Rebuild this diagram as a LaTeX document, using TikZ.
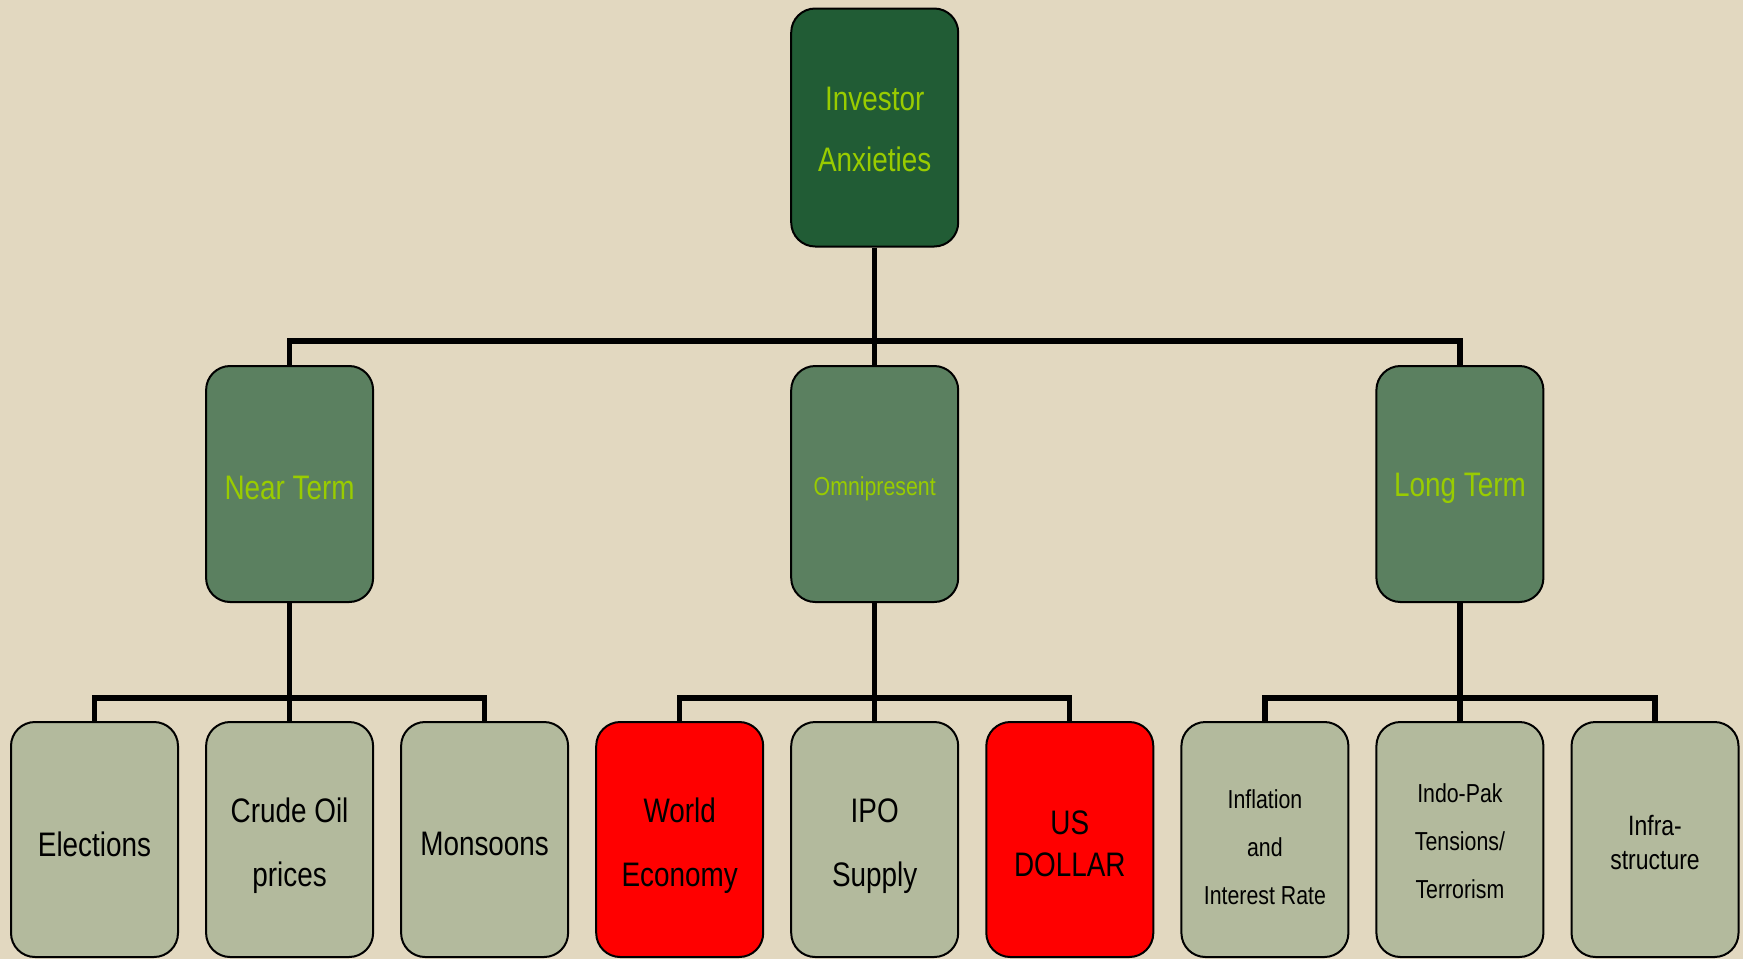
\documentclass[tikz,border=0pt]{standalone}
\usepackage{fontspec}
\setmainfont{Liberation Sans}[FakeStretch=0.82]
\definecolor{bg}{RGB}{226,216,192}
\definecolor{topfill}{RGB}{33,92,53}
\definecolor{midfill}{RGB}{91,128,96}
\definecolor{lowfill}{RGB}{179,186,157}
\definecolor{lime}{RGB}{153,204,0}
\definecolor{hot}{RGB}{255,0,0}
\begin{document}
\begin{tikzpicture}[x=0.5pt,y=-0.5pt,
  box/.style={draw=black, line width=1pt, rounded corners=12pt, minimum width=83.5pt, inner sep=0pt},
  topbox/.style={box, fill=topfill, minimum height=119pt},
  midbox/.style={box, fill=midfill, minimum height=118pt},
  lowbox/.style={box, fill=lowfill, minimum height=117.5pt},
  redbox/.style={lowbox, fill=hot},
  txt/.style={inner sep=0pt, align=center},
  greentxt/.style={txt, text=lime, font=\fontsize{17}{30.5}\selectfont},
  blacktxt/.style={txt, text=black, font=\fontsize{17}{32}\selectfont},
  conn/.style={draw=black, line width=2.6pt, line join=miter}]
\useasboundingbox (0,0) rectangle (1743,959);
\fill[bg] (0,0) rectangle (1743,959);
% connector levels
\coordinate (b1) at (874.7,341);
\coordinate (bn) at (289.6,698);
\coordinate (bo) at (874.7,698);
\coordinate (bl) at (1459.9,698);
% boxes
\node[topbox] (top) at (874.7,127.5) {};
\node[midbox] (near) at (289.6,484) {};
\node[midbox] (omni) at (874.7,484) {};
\node[midbox] (long) at (1459.9,484) {};
\node[lowbox] (elec) at (94.5,839.5) {};
\node[lowbox] (crude) at (289.6,839.5) {};
\node[lowbox] (mons) at (484.6,839.5) {};
\node[redbox] (world) at (679.7,839.5) {};
\node[lowbox] (ipo) at (874.7,839.5) {};
\node[redbox] (usd) at (1069.8,839.5) {};
\node[lowbox] (infl) at (1264.9,839.5) {};
\node[lowbox] (indo) at (1459.9,839.5) {};
\node[lowbox] (infra) at (1655.0,839.5) {};
% labels
\node[greentxt] (topt) at ([yshift=-1.2pt]top.center) {Investor\\Anxieties};
\node[greentxt] (neart) at ([yshift=-1.8pt]near.center) {Near Term};
\node[greentxt, font=\fontsize{13}{16}\selectfont] (omnit) at ([yshift=-2.2pt]omni.center) {Omnipresent};
\node[greentxt] (longt) at ([yshift=-2.2pt]long.center) {Long Term};
\node[blacktxt] (elect) at ([yshift=-2.2pt]elec.center) {Elections};
\node[blacktxt] (crudet) at ([yshift=-3.2pt]crude.center) {Crude Oil\\prices};
\node[blacktxt] (monst) at ([yshift=-2.2pt]mons.center) {Monsoons};
\node[blacktxt] (worldt) at ([yshift=-3.2pt]world.center) {World\\Economy};
\node[blacktxt] (ipot) at ([yshift=-3.2pt]ipo.center) {IPO\\Supply};
\node[blacktxt, font=\fontsize{17}{21}\selectfont] (usdt) at ([yshift=-2pt]usd.center) {US\\DOLLAR};
\node[blacktxt, font=\fontsize{13}{24}\selectfont] (inflt) at ([yshift=-3.6pt]infl.center) {Inflation\\and\\Interest Rate};
\node[blacktxt, font=\fontsize{13}{24}\selectfont] (indot) at ([yshift=-0.6pt]indo.center) {Indo-Pak\\Tensions/\\Terrorism};
\node[blacktxt, font=\fontsize{14}{17}\selectfont] (infrat) at ([yshift=-1.4pt]infra.center) {Infra-\\structure};
% connectors
\draw[conn] (top.south) -- (omni.north);
\draw[conn] (near.north) |- (b1) -| (long.north);
\draw[conn] (near.south) -- (crude.north);
\draw[conn] (elec.north) |- (bn) -| (mons.north);
\draw[conn] (omni.south) -- (ipo.north);
\draw[conn] (world.north) |- (bo) -| (usd.north);
\draw[conn] (long.south) -- (indo.north);
\draw[conn] (infl.north) |- (bl) -| (infra.north);
\end{tikzpicture}
\end{document}
